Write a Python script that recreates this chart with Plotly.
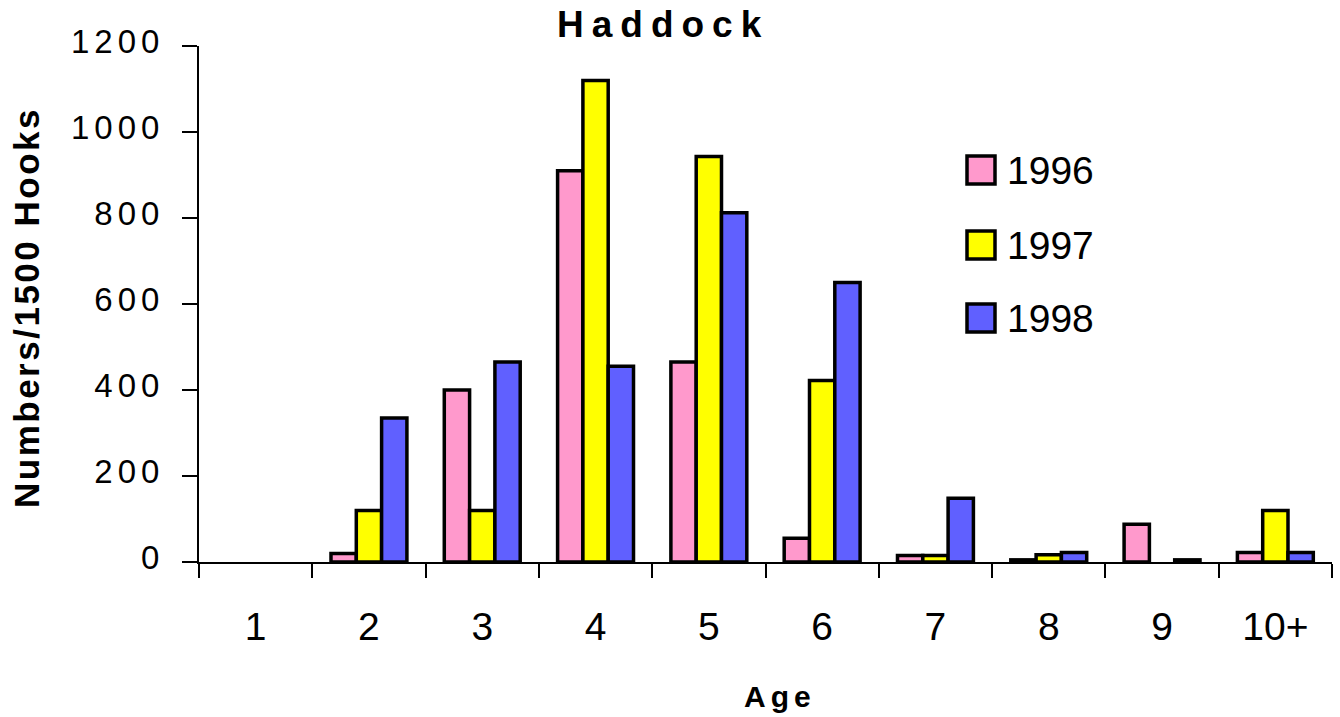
import plotly.graph_objects as go

ages = ["1", "2", "3", "4", "5", "6", "7", "8", "9", "10+"]
years = ["1996", "1997", "1998"]
v1996 = [None, 20, 400, 910, 465, 55, 15, 5, 88, 22]
v1997 = [None, 120, 120, 1120, 943, 422, 15, 17, None, 120]
v1998 = [None, 335, 465, 455, 812, 650, 148, 22, 5, 22]
colors = ["#FF99CC", "#FFFF00", "#6060FF"]
y_ticks = [0, 200, 400, 600, 800, 1000, 1200]

W, H = 1340, 717
L, R, T, B = 199, 1332, 46, 562
FONT = "Liberation Sans, Arial, sans-serif"

def px(x):
    return (x - L) / (R - L)

def py(y):
    return (B - y) / (B - T)

def spaced(text, sp):
    return f'<span style="letter-spacing:{sp}px">{text}</span>'

fig = go.Figure()
for name, vals, col in zip(years, [v1996, v1997, v1998], colors):
    fig.add_trace(go.Bar(x=ages, y=vals, name=name, marker=dict(color=col, line=dict(color="black", width=3.5)),
                         showlegend=False))

fig.update_layout(
    width=W, height=H,
    margin=dict(l=L, r=W - R, t=T, b=H - B),
    paper_bgcolor="white", plot_bgcolor="white",
    barmode="group", bargap=0.33, bargroupgap=0,
    font=dict(family=FONT, color="black"),
)
fig.update_xaxes(
    type="category", showline=True, linecolor="black", linewidth=2,
    ticks="outside", ticklen=14, tickwidth=2, tickcolor="black", tickson="boundaries",
    tickfont=dict(size=39, family=FONT), ticklabelstandoff=29, showgrid=False, zeroline=False,
)
fig.update_yaxes(
    range=[0, 1200], showline=True, linecolor="black", linewidth=2,
    ticks="outside", ticklen=15, tickwidth=2, tickcolor="black",
    tickvals=y_ticks, ticktext=[spaced(str(v), 5) for v in y_ticks],
    tickfont=dict(size=33, family=FONT), ticklabelstandoff=11, ticklabelshift=-5,
    showgrid=False, zeroline=False,
)

# Title and axis titles
fig.add_annotation(text=spaced("<b>Haddock</b>", 8), x=px(663), y=py(25), xref="paper", yref="paper",
                   showarrow=False, font=dict(size=37, family=FONT), xanchor="center", yanchor="middle")
fig.add_annotation(text=spaced("<b>Age</b>", 5), x=px(780), y=py(696), xref="paper", yref="paper",
                   showarrow=False, font=dict(size=30, family=FONT), xanchor="center", yanchor="middle")
fig.add_annotation(text=spaced("<b>Numbers/1500 Hooks</b>", 2.5), x=px(26), y=py(308), xref="paper", yref="paper",
                   showarrow=False, textangle=-90, font=dict(size=35, family=FONT),
                   xanchor="center", yanchor="middle")

# Manual legend (large swatches)
leg_y = [170, 245, 318]
for name, col, cy in zip(years, colors, leg_y):
    fig.add_shape(type="rect", xref="paper", yref="paper",
                  x0=px(967), x1=px(995), y0=py(cy + 14), y1=py(cy - 14),
                  fillcolor=col, line=dict(color="black", width=3.5))
    fig.add_annotation(text=name, x=px(1005), y=py(cy), xref="paper", yref="paper",
                       showarrow=False, xanchor="left", yanchor="middle",
                       font=dict(size=39, family=FONT))

fig.write_html("out.html")
